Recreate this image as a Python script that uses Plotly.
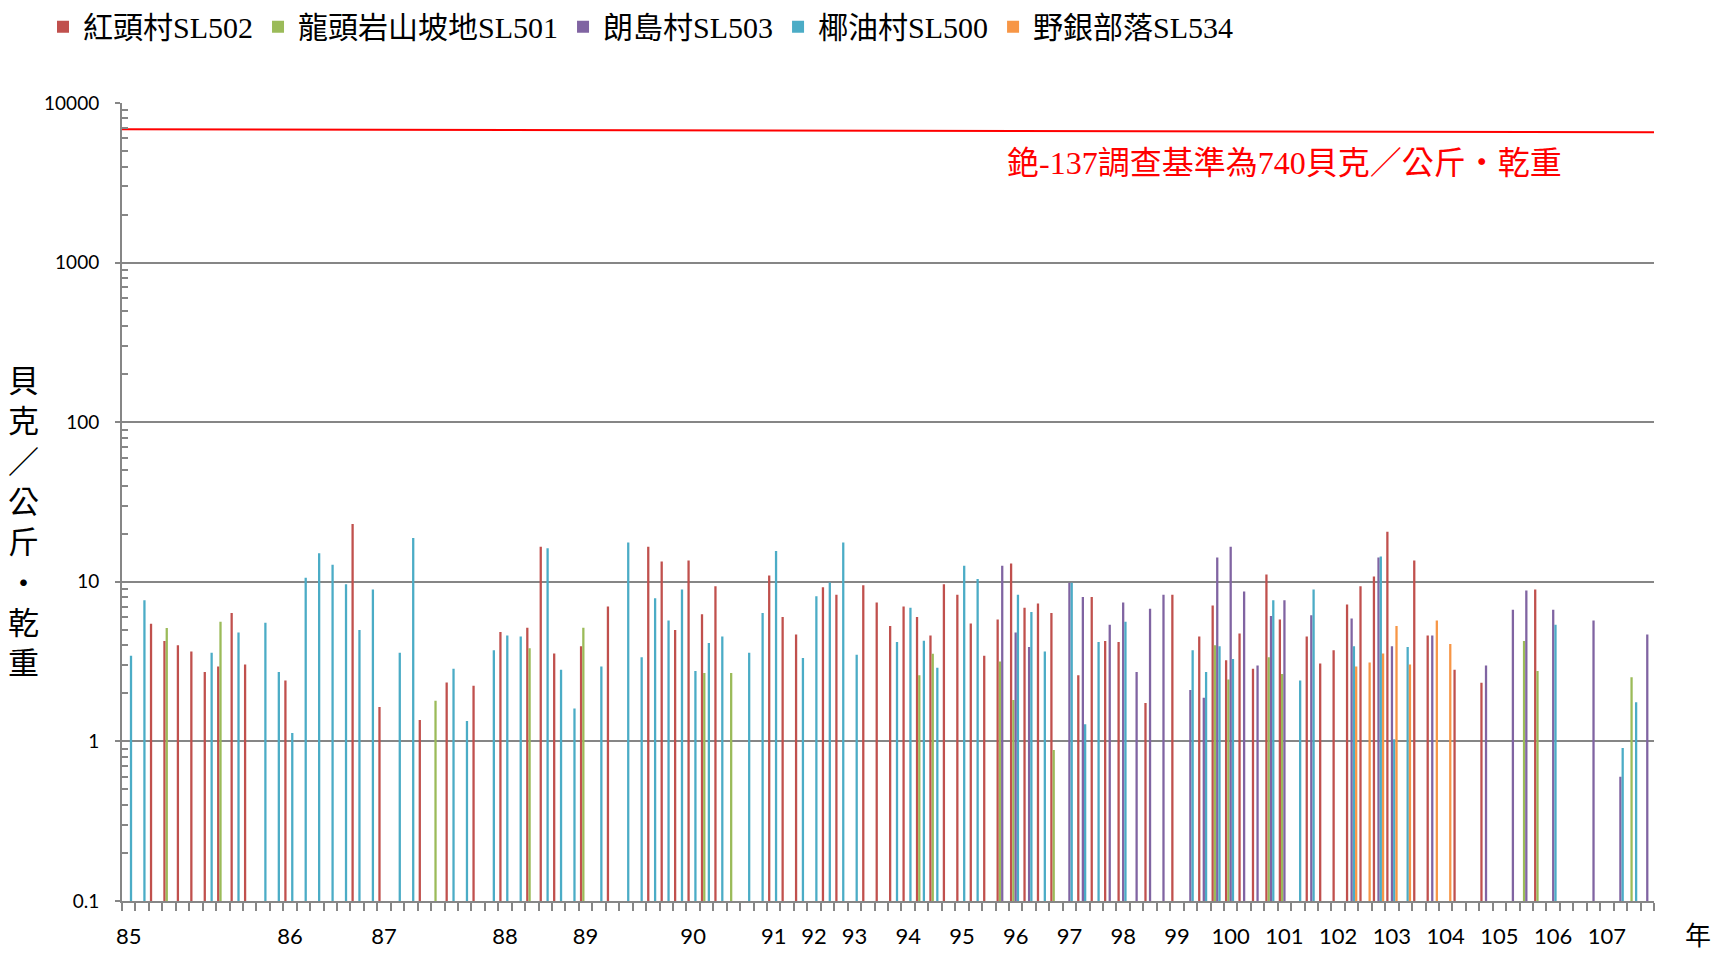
import plotly.graph_objects as go

# ---- categories (sampling slots on a category axis) and year tick labels ----
n_slots = 114
year_tick_index = [0, 12, 19, 28, 34, 42, 48, 51, 54, 58, 62, 66, 70, 74, 78, 82,
                   86, 90, 94, 98, 102, 106, 110]
year_tick_label = ['85', '86', '87', '88', '89', '90', '91', '92', '93', '94', '95',
                   '96', '97', '98', '99', '100', '101', '102', '103', '104', '105',
                   '106', '107']

series_names = ['紅頭村SL502', '龍頭岩山坡地SL501', '朗島村SL503', '椰油村SL500', '野銀部落SL534']
series_colors = ['#C0504D', '#9BBB59', '#8064A2', '#4BACC6', '#F79646']

# ---- series values (Bq/kg dry weight), slot index -> value ----
red_idx = [2, 3, 4, 5, 6, 7, 8, 9, 12, 17, 19, 22, 24, 26, 28, 30, 31, 32, 34, 36, 39, 40,
           41, 42, 43, 44, 48, 49, 50, 52, 53, 55, 56, 57, 58, 59, 60, 61, 62, 63, 64, 65,
           66, 67, 68, 69, 71, 72, 73, 74, 76, 78, 80, 81, 82, 83, 84, 85, 86, 88, 89, 90,
           91, 92, 93, 94, 96, 97, 99, 101, 105]
red_val = [5.46, 4.25, 4.01, 3.66, 2.72, 2.95, 6.37, 3.03, 2.41, 23.0, 1.64, 1.36, 2.34,
           2.23, 4.84, 5.15, 16.6, 3.56, 3.95, 7.01, 16.6, 13.4, 4.98, 13.6, 6.27, 9.39,
           10.96, 6.01, 4.68, 9.26, 8.29, 9.53, 7.42, 5.28, 7.01, 6.01, 4.61, 9.66, 8.29,
           5.48, 3.44, 5.81, 13.0, 6.87, 7.31, 6.37, 2.60, 8.02, 4.25, 4.19, 1.74, 8.29,
           4.55, 7.11, 3.23, 4.75, 2.85, 11.1, 5.81, 4.55, 3.08, 3.72, 7.21, 9.39, 10.8,
           20.6, 13.6, 4.61, 2.81, 2.33, 8.95]

green_idx = [3, 7, 23, 30, 34, 43, 45, 59, 60, 65, 66, 69, 81, 82, 85, 86, 104, 105, 112]
green_val = [5.13, 5.61, 1.80, 3.84, 5.15, 2.68, 2.68, 2.60, 3.54, 3.17, 1.82, 0.882, 4.01,
             2.44, 3.37, 2.64, 4.25, 2.76, 2.52]

purple_idx = [65, 66, 67, 70, 71, 73, 74, 75, 76, 77, 79, 80, 81, 82, 83, 84, 85, 86, 88,
              91, 93, 94, 97, 101, 103, 104, 106, 109, 111, 113]
purple_val = [12.6, 4.82, 3.90, 9.86, 8.02, 5.38, 7.42, 2.72, 6.78, 8.29, 2.10, 1.88, 14.2,
              16.6, 8.70, 2.99, 6.10, 7.67, 6.18, 5.89, 14.2, 3.95, 4.61, 2.99, 6.68, 8.83,
              6.68, 5.73, 0.60, 4.68]

teal_idx = [0, 1, 6, 8, 10, 11, 12, 13, 14, 15, 16, 17, 18, 20, 21, 24, 25, 27, 28, 29, 31,
            32, 33, 35, 37, 38, 39, 40, 41, 42, 43, 44, 46, 47, 48, 50, 51, 52, 53, 54, 57,
            58, 59, 60, 62, 63, 66, 67, 68, 70, 71, 72, 74, 79, 80, 81, 82, 85, 87, 88, 91,
            93, 94, 95, 106, 111, 112]
teal_val = [3.44, 7.67, 3.59, 4.82, 5.53, 2.72, 1.13, 10.6, 15.1, 12.8, 9.66, 4.98, 8.95,
            3.59, 18.8, 2.85, 1.34, 3.72, 4.61, 4.55, 16.2, 2.81, 1.61, 2.95, 17.6, 3.37,
            7.9, 5.73, 8.95, 2.76, 4.13, 4.55, 3.59, 6.37, 15.6, 3.33, 8.13, 9.9, 17.6, 3.49,
            4.19, 6.87, 4.27, 2.89, 12.6, 10.4, 8.29, 6.46, 3.66, 9.86, 1.28, 4.19, 5.61,
            3.72, 2.72, 3.95, 3.28, 7.67, 2.41, 8.95, 3.95, 14.4, 1.03, 3.90, 5.38, 0.908,
            1.76]

orange_idx = [91, 92, 93, 94, 95, 97, 98]
orange_val = [2.95, 3.12, 3.56, 5.28, 3.03, 5.73, 4.07]

# red reference line drawn across the chart (as in the original)
ref_line_x = [-0.5, 113.5]
ref_line_y = [6850, 6560]
ref_text = '銫-137調查基準為740貝克／公斤‧乾重'

y_tick_vals = [0.1, 1, 10, 100, 1000, 10000]
y_tick_text = ['0.1', '1', '10', '100', '1000', '10000']

GRAY = '#868686'
CJK = 'Liberation Serif, Noto Sans CJK TC, sans-serif'

fig = go.Figure()
all_idx = [red_idx, green_idx, purple_idx, teal_idx, orange_idx]
all_val = [red_val, green_val, purple_val, teal_val, orange_val]
for name, color, xi, yv in zip(series_names, series_colors, all_idx, all_val):
    fig.add_trace(go.Bar(x=xi, y=yv, name=name,
                         marker=dict(color=color, line=dict(width=0))))

fig.add_trace(go.Scatter(x=ref_line_x, y=ref_line_y, mode='lines',
                         line=dict(color='#FF0000', width=2),
                         showlegend=False, hoverinfo='skip'))

minor_y = [m * 10 ** e for e in range(-1, 4) for m in range(2, 10)]
minor_x = [i - 0.5 for i in range(n_slots + 1)]

fig.update_layout(
    width=1720, height=953,
    margin=dict(l=122, r=66, t=103, b=52),
    paper_bgcolor='white', plot_bgcolor='white',
    barmode='group', bargap=0.15, bargroupgap=0,
    showlegend=True,
    legend=dict(orientation='h', xref='container', yref='container',
                x=0.025, y=0.972, xanchor='left', yanchor='middle',
                font=dict(family=CJK, size=30, color='#000000'),
                itemclick=False, itemdoubleclick=False, bgcolor='rgba(0,0,0,0)'),
    xaxis=dict(range=[-0.5, 113.5], tickmode='array', tickvals=year_tick_index,
               ticktext=year_tick_label, ticks='', showgrid=False, zeroline=False,
               showline=True, linecolor=GRAY, linewidth=2, automargin=False,
               tickfont=dict(family='Lato', size=22, color='#000000'),
               ticklabelstandoff=15,
               minor=dict(tickmode='array', tickvals=minor_x, ticks='outside',
                          ticklen=8, tickcolor=GRAY, tickwidth=2, showgrid=False)),
    yaxis=dict(type='log', range=[-1, 4], tickmode='array', tickvals=y_tick_vals,
               ticktext=y_tick_text, ticks='outside', ticklen=5, tickcolor=GRAY,
               tickwidth=2, showgrid=True, gridcolor=GRAY, gridwidth=2,
               showline=True, linecolor=GRAY, linewidth=2, zeroline=False,
               automargin=False,
               tickfont=dict(family='Lato', size=19, color='#000000'),
               ticklabelstandoff=12,
               minor=dict(tickmode='array', tickvals=minor_y, ticks='inside',
                          ticklen=6, tickcolor=GRAY, tickwidth=1.5, showgrid=False)),
    annotations=[
        dict(text='<br>'.join(list('貝克／公斤‧乾重')), xref='paper', yref='paper',
             x=-0.064, y=0.474, xanchor='center', yanchor='middle', showarrow=False,
             font=dict(family=CJK, size=31, color='#000000')),
        dict(text=ref_text, xref='paper', yref='paper', x=0.759, y=0.925,
             xanchor='center', yanchor='middle', showarrow=False,
             font=dict(family=CJK, size=32, color='#FF0000')),
        dict(text='年', xref='paper', yref='paper', x=1.0285, y=-0.044,
             xanchor='center', yanchor='middle', showarrow=False,
             font=dict(family=CJK, size=26, color='#000000')),
    ],
)

fig.write_html('out.html', config={'displayModeBar': False},
               post_script="document.body.style.margin='0';")
